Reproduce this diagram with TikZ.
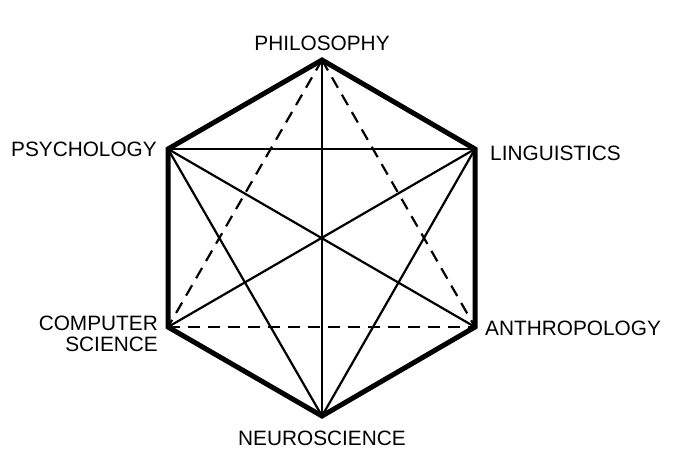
\documentclass[tikz,border=0pt]{standalone}
\usepackage{fontspec}
\setmainfont{Liberation Sans}
\begin{document}
\begin{tikzpicture}[x=1pt,y=-1pt,
  lbl/.style={inner sep=0pt,font=\fontsize{20.8}{22}\selectfont},
  edge/.style={line width=5pt,line join=miter},
  chord/.style={line width=2.2pt},
  dchord/.style={line width=2.2pt,dash pattern=on 12pt off 8pt}]
\useasboundingbox (0,0) rectangle (682,456);
\coordinate (phi) at (322,60);
\coordinate (lin) at (475,149);
\coordinate (ant) at (475,327);
\coordinate (neu) at (322,416);
\coordinate (cs) at (168,327);
\coordinate (psy) at (168,149);
% chords
\draw[chord] (psy) -- (lin);
\draw[chord] (phi) -- (neu);
\draw[chord] (psy) -- (ant);
\draw[chord] (psy) -- (neu);
\draw[chord] (lin) -- (cs);
\draw[chord] (lin) -- (neu);
\draw[dchord] (phi) -- (cs);
\draw[dchord] (phi) -- (ant);
\draw[dchord] (cs) -- (ant);
% hexagon
\draw[edge] (phi) -- (lin) -- (ant) -- (neu) -- (cs) -- (psy) -- cycle;
% labels
\node[lbl,anchor=base] (tphi) at (322,50) {PHILOSOPHY};
\node[lbl,anchor=base east] (tpsy) at (157,156) {PSYCHOLOGY};
\node[lbl,anchor=base west] (tlin) at (490,160) {LINGUISTICS};
\node[lbl,anchor=base west] (tant) at (485,335) {ANTHROPOLOGY};
\node[lbl,anchor=base east] (tcs1) at (158,330) {COMPUTER};
\node[lbl,anchor=base east] (tcs2) at (158,351) {SCIENCE};
\node[lbl,anchor=base] (tneu) at (322,445) {NEUROSCIENCE};
\end{tikzpicture}
\end{document}
